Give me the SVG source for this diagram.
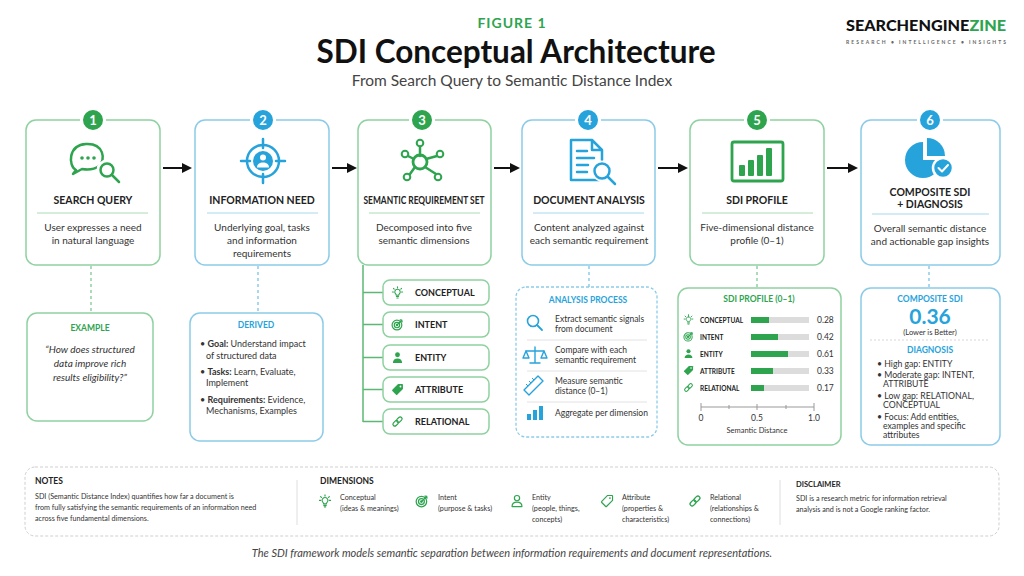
<svg xmlns="http://www.w3.org/2000/svg" width="1024" height="576" viewBox="0 0 1024 576">
<style>
  text { font-family: Lato, "Open Sans", "Liberation Sans", sans-serif; }
  .bg { fill: #ffffff; }
  .boxG { fill: #ffffff; stroke: #8fd1a0; stroke-width: 1.5; }
  .boxB { fill: #ffffff; stroke: #8ccbe8; stroke-width: 1.5; }
  .boxBd { fill: #ffffff; stroke: #8ccbe8; stroke-width: 1.3; stroke-dasharray: 3 2; }
  .divG { stroke: #a8dcb5; stroke-width: 1; }
  .divB { stroke: #a6d8ee; stroke-width: 1; }
  .ttl { font-size: 10.5px; font-weight: 700; fill: #222; text-anchor: middle; }
  .desc { font-size: 10px; fill: #333; text-anchor: middle; }
  .badge { font-size: 13px; font-weight: 700; fill: #fff; text-anchor: middle; }
  .hG { font-size: 8.5px; font-weight: 700; fill: #2ea44f; text-anchor: middle; }
  .hB { font-size: 8.5px; font-weight: 700; fill: #27a3dc; text-anchor: middle; }
  .small { font-size: 9px; fill: #333; }
  .tiny { font-size: 8.5px; fill: #333; }
  .diag { font-size: 8.7px; fill: #333; }
  .dim { font-size: 9px; font-weight: 700; fill: #222; }
  .plab { font-size: 6.5px; font-weight: 700; fill: #222; }
  .pval { font-size: 8.5px; fill: #333; }
  .note { font-size: 7.2px; fill: #333; }
  .nh { font-size: 8.5px; font-weight: 700; fill: #222; }
  .arrow { stroke: #111; stroke-width: 2; fill: none; marker-end: url(#ah); }
  .dashG { stroke: #7fc894; stroke-width: 1.3; stroke-dasharray: 3 3; fill: none; }
  .dashB { stroke: #7cc3e6; stroke-width: 1.3; stroke-dasharray: 3 3; fill: none; }
  .tree { stroke: #5cb874; stroke-width: 1.5; fill: none; }
  .sepL { stroke: #e2e2e2; stroke-width: 1; }
  .icoG { stroke: #2ea44f; fill: none; stroke-width: 2.5; stroke-linecap: round; stroke-linejoin: round; }
  .icoB { stroke: #27a3dc; fill: none; stroke-width: 2.5; stroke-linecap: round; stroke-linejoin: round; }
</style>
<defs>
  <marker id="ah" viewBox="0 0 10 10" refX="8" refY="5" markerWidth="5" markerHeight="5" orient="auto" markerUnits="strokeWidth">
    <path d="M0 0 L10 5 L0 10 z" fill="#111"/>
  </marker>
  <symbol id="bulb" viewBox="0 0 24 24">
    <g fill="none" stroke="currentColor" stroke-width="2" stroke-linecap="round" stroke-linejoin="round">
      <path d="M12 6a5 5 0 0 0-3.3 8.8c.7.6 1 1.3 1 2.2h4.6c0-.9.3-1.6 1-2.2A5 5 0 0 0 12 6z"/>
      <path d="M10 19.5h4M10.8 22h2.4"/>
      <path d="M12 1.5v2M4.5 4.5l1.4 1.4M19.5 4.5l-1.4 1.4M2.5 11h2M19.5 11h2"/>
    </g>
  </symbol>
  <symbol id="target" viewBox="0 0 24 24">
    <g fill="none" stroke="currentColor" stroke-width="2.2" stroke-linecap="round">
      <circle cx="11" cy="13" r="9"/>
      <circle cx="11" cy="13" r="5"/>
      <circle cx="11" cy="13" r="1.3" fill="currentColor"/>
      <path d="M11 13 L20 4 M17 3.5 L20 4 L20.5 7"/>
    </g>
  </symbol>
  <symbol id="personF" viewBox="0 0 24 24">
    <g fill="currentColor">
      <circle cx="12" cy="7" r="4.5"/>
      <path d="M3.5 22c0-5.5 3.8-8 8.5-8s8.5 2.5 8.5 8z"/>
    </g>
  </symbol>
  <symbol id="personO" viewBox="0 0 24 24">
    <g fill="none" stroke="currentColor" stroke-width="2" stroke-linejoin="round">
      <circle cx="12" cy="7" r="4.5"/>
      <path d="M3.5 21.5c0-5 3.8-7.5 8.5-7.5s8.5 2.5 8.5 7.5z"/>
    </g>
  </symbol>
  <symbol id="tagF" viewBox="0 0 24 24">
    <path d="M13 2h8a1 1 0 0 1 1 1v8L11.5 21.5a1.5 1.5 0 0 1-2.1 0L2.5 14.6a1.5 1.5 0 0 1 0-2.1z" fill="currentColor"/>
    <circle cx="17.5" cy="6.5" r="1.7" fill="#fff"/>
  </symbol>
  <symbol id="tagO" viewBox="0 0 24 24">
    <path d="M13 2.5h7.5a1 1 0 0 1 1 1V11L11.5 21a1.5 1.5 0 0 1-2.1 0L3 14.6a1.5 1.5 0 0 1 0-2.1z" fill="none" stroke="currentColor" stroke-width="2" stroke-linejoin="round"/>
    <circle cx="17" cy="7" r="1.5" fill="currentColor"/>
  </symbol>
  <symbol id="link" viewBox="0 0 24 24">
    <g fill="none" stroke="currentColor" stroke-width="2.2" transform="rotate(-45 12 12)">
      <rect x="1.5" y="8.5" width="11.5" height="7" rx="3.5"/>
      <rect x="11" y="8.5" width="11.5" height="7" rx="3.5"/>
    </g>
  </symbol>
</defs>

<rect class="bg" x="0" y="0" width="1024" height="576"/>

<!-- Header -->
<g id="header">
  <text x="512" y="28" font-size="14" font-weight="700" fill="#2ea44f" text-anchor="middle" letter-spacing="1">FIGURE 1</text>
  <text x="516" y="63" font-size="31.5" font-weight="700" fill="#111" text-anchor="middle">SDI Conceptual Architecture</text>
  <text x="512" y="86" font-size="15.5" fill="#444" text-anchor="middle">From Search Query to Semantic Distance Index</text>
</g>
<g id="logo">
  <text x="846" y="31" font-size="15.5" font-weight="900" fill="#111" textLength="160" lengthAdjust="spacingAndGlyphs">SEARCHENGINE<tspan fill="#2ea44f">ZINE</tspan></text>
  <text x="846" y="44" font-size="5" font-weight="700" fill="#666" textLength="160" lengthAdjust="spacing">RESEARCH  •  INTELLIGENCE  •  INSIGHTS</text>
</g>

<!-- Connectors -->
<g id="connectors">
  <line class="arrow" x1="163" y1="168" x2="190" y2="168"/>
  <line class="arrow" x1="332" y1="168" x2="355" y2="168"/>
  <line class="arrow" x1="494" y1="168" x2="518" y2="168"/>
  <line class="arrow" x1="658" y1="168" x2="686" y2="168"/>
  <line class="arrow" x1="827" y1="168" x2="856" y2="168"/>
  <line class="dashG" x1="91" y1="266" x2="91" y2="313"/>
  <line class="dashB" x1="258" y1="266" x2="258" y2="313"/>
  <line class="dashB" x1="589" y1="266" x2="589" y2="287"/>
  <line class="dashG" x1="757" y1="266" x2="757" y2="288"/>
  <line class="dashB" x1="929" y1="266" x2="929" y2="288"/>
  <path class="tree" d="M363 265 V422 M363 292.5 H383 M363 324.5 H383 M363 357.5 H383 M363 389.5 H383 M363 421.5 H383"/>
</g>

<!-- Step 1 -->
<g id="step1">
  <rect class="boxG" x="26" y="120" width="134" height="145" rx="10"/>
  <circle cx="93" cy="120" r="11.5" fill="#2ea44f" stroke="#fff" stroke-width="3"/>
  <text class="badge" x="93" y="124.5">1</text>
  <path class="icoG" d="M76 170 C68 166 68 145 86 144 C104 143 106 160 99 166 C95 169 88 170 82 169 L73 174 Z"/>
  <circle cx="82" cy="158" r="1.8" fill="#2ea44f"/>
  <circle cx="88" cy="158" r="1.8" fill="#2ea44f"/>
  <circle cx="94" cy="158" r="1.8" fill="#2ea44f"/>
  <circle cx="107" cy="170" r="8.5" fill="#fff" stroke="#fff" stroke-width="4"/>
  <circle class="icoG" cx="107" cy="170" r="6.5"/>
  <line class="icoG" x1="112" y1="175" x2="119" y2="182"/>
  <text class="ttl" x="93" y="204">SEARCH QUERY</text>
  <line class="divG" x1="37" y1="213" x2="148" y2="213"/>
  <text class="desc" x="93" y="231">User expresses a need</text>
  <text class="desc" x="93" y="244">in natural language</text>
</g>

<!-- Step 2 -->
<g id="step2">
  <rect class="boxB" x="195" y="120" width="134" height="145" rx="10"/>
  <circle cx="263" cy="120" r="11.5" fill="#27a3dc" stroke="#fff" stroke-width="3"/>
  <text class="badge" x="263" y="124.5">2</text>
  <circle class="icoB" cx="263" cy="161" r="16"/>
  <path class="icoB" d="M263 139 V148 M263 174 V183 M241 161 H250 M276 161 H285"/>
  <circle cx="263" cy="161" r="10" fill="#27a3dc"/>
  <circle cx="263" cy="157.5" r="3" fill="#fff"/>
  <path d="M257 167.5 c0-3.5 2.7-5 6-5 s6 1.5 6 5z" fill="#fff"/>
  <text class="ttl" x="262" y="204">INFORMATION NEED</text>
  <line class="divB" x1="207" y1="213" x2="318" y2="213"/>
  <text class="desc" x="262" y="231">Underlying goal, tasks</text>
  <text class="desc" x="262" y="244">and information</text>
  <text class="desc" x="262" y="257">requirements</text>
</g>

<!-- Step 3 -->
<g id="step3">
  <rect class="boxG" x="358" y="120" width="133" height="145" rx="10"/>
  <circle cx="422" cy="120" r="11.5" fill="#2ea44f" stroke="#fff" stroke-width="3"/>
  <text class="badge" x="422" y="124.5">3</text>
  <g class="icoG">
    <path d="M420 156 V147 M414 159 L408 156 M426 159 L437 156 M415 167 L410 174 M425 167 L436 174"/>
    <circle cx="420" cy="162" r="7" stroke-width="2.8"/>
    <circle cx="420" cy="143" r="3.3" stroke-width="2"/>
    <circle cx="405" cy="154" r="3.3" stroke-width="2"/>
    <circle cx="440" cy="154" r="3.3" stroke-width="2"/>
    <circle cx="407" cy="177" r="3.3" stroke-width="2"/>
    <circle cx="438" cy="177" r="3.3" stroke-width="2"/>
  </g>
  <text class="ttl" x="424" y="204" font-size="9.5" textLength="121" lengthAdjust="spacingAndGlyphs">SEMANTIC REQUIREMENT SET</text>
  <line class="divG" x1="369" y1="213" x2="480" y2="213"/>
  <text class="desc" x="424" y="231">Decomposed into five</text>
  <text class="desc" x="424" y="244">semantic dimensions</text>
</g>

<!-- Dimensions of step 3 -->
<g id="dim-conceptual">
  <rect class="boxG" x="383" y="280" width="106" height="25" rx="7"/>
  <use href="#bulb" x="391" y="286" width="13" height="13" style="color:#2ea44f"/>
  <text class="dim" x="415" y="296">CONCEPTUAL</text>
</g>
<g id="dim-intent">
  <rect class="boxG" x="383" y="312" width="106" height="25" rx="7"/>
  <use href="#target" x="391" y="318" width="13" height="13" style="color:#2ea44f"/>
  <text class="dim" x="415" y="328">INTENT</text>
</g>
<g id="dim-entity">
  <rect class="boxG" x="383" y="345" width="106" height="25" rx="7"/>
  <use href="#personF" x="391" y="351" width="13" height="13" style="color:#2ea44f"/>
  <text class="dim" x="415" y="361">ENTITY</text>
</g>
<g id="dim-attribute">
  <rect class="boxG" x="383" y="377" width="106" height="25" rx="7"/>
  <use href="#tagF" x="391" y="383" width="13" height="13" style="color:#2ea44f"/>
  <text class="dim" x="415" y="393">ATTRIBUTE</text>
</g>
<g id="dim-relational">
  <rect class="boxG" x="383" y="409" width="106" height="25" rx="7"/>
  <use href="#link" x="391" y="415" width="13" height="13" style="color:#2ea44f"/>
  <text class="dim" x="415" y="425">RELATIONAL</text>
</g>

<!-- Step 4 -->
<g id="step4">
  <rect class="boxB" x="522" y="120" width="133" height="145" rx="10"/>
  <circle cx="588" cy="120" r="11.5" fill="#27a3dc" stroke="#fff" stroke-width="3"/>
  <text class="badge" x="588" y="124.5">4</text>
  <path class="icoB" d="M599 180 H571 V140 H592 L602 150 V160 M592 140 V150 H602"/>
  <path class="icoB" d="M577 151 H587 M577 158 H594 M577 165 H588 M577 172 H587"/>
  <circle cx="602" cy="171" r="9" fill="#fff" stroke="#fff" stroke-width="3"/>
  <circle class="icoB" cx="602" cy="171" r="7.5"/>
  <line class="icoB" x1="608" y1="177" x2="615" y2="184"/>
  <text class="ttl" x="589" y="204">DOCUMENT ANALYSIS</text>
  <line class="divB" x1="533" y1="213" x2="644" y2="213"/>
  <text class="desc" x="589" y="231">Content analyzed against</text>
  <text class="desc" x="589" y="244">each semantic requirement</text>
</g>

<!-- Analysis process -->
<g id="analysis-process">
  <rect class="boxBd" x="516" y="287" width="141" height="150" rx="10"/>
  <text class="hB" x="588" y="303">ANALYSIS PROCESS</text>
  <circle cx="533" cy="321" r="5.5" fill="none" stroke="#27a3dc" stroke-width="1.6"/>
  <line x1="537" y1="325" x2="542" y2="330" stroke="#27a3dc" stroke-width="1.8" stroke-linecap="round"/>
  <text class="tiny" x="555" y="322">Extract semantic signals</text>
  <text class="tiny" x="555" y="332">from document</text>
  <line class="sepL" x1="527" y1="340" x2="647" y2="340"/>
  <g fill="none" stroke="#27a3dc" stroke-width="1.4" stroke-linejoin="round" stroke-linecap="round">
    <path d="M535 347 V363 M530 363 H540 M526 351 H544"/>
    <path d="M526 351 L523 358 H529 Z M544 351 L541 358 H547 Z"/>
  </g>
  <text class="tiny" x="555" y="353">Compare with each</text>
  <text class="tiny" x="555" y="363">semantic requirement</text>
  <line class="sepL" x1="527" y1="371" x2="647" y2="371"/>
  <g fill="none" stroke="#27a3dc" stroke-width="1.4" stroke-linejoin="round">
    <path d="M524 390 L538 376 L543 381 L529 395 Z"/>
    <path d="M529 381 l2 2 M532 378 l2 2 M526 384 l2 2" stroke-width="1"/>
  </g>
  <text class="tiny" x="555" y="384">Measure semantic</text>
  <text class="tiny" x="555" y="394">distance (0–1)</text>
  <line class="sepL" x1="527" y1="402" x2="647" y2="402"/>
  <rect x="527" y="414" width="4" height="6" fill="#27a3dc"/>
  <rect x="533" y="410" width="4" height="10" fill="#27a3dc"/>
  <rect x="539" y="406" width="4" height="14" fill="#27a3dc"/>
  <text class="tiny" x="555" y="416">Aggregate per dimension</text>
</g>

<!-- Step 5 -->
<g id="step5">
  <rect class="boxG" x="690" y="120" width="134" height="145" rx="10"/>
  <circle cx="757" cy="120" r="11.5" fill="#2ea44f" stroke="#fff" stroke-width="3"/>
  <text class="badge" x="757" y="124.5">5</text>
  <rect x="732" y="142" width="51" height="39" rx="2" fill="none" stroke="#2ea44f" stroke-width="2.8"/>
  <rect x="739" y="165" width="6" height="11" rx="1" fill="#2ea44f"/>
  <rect x="748" y="160" width="6" height="16" rx="1" fill="#2ea44f"/>
  <rect x="757" y="155" width="6" height="21" rx="1" fill="#2ea44f"/>
  <rect x="766" y="148" width="6" height="28" rx="1" fill="#2ea44f"/>
  <text class="ttl" x="757" y="204">SDI PROFILE</text>
  <line class="divG" x1="702" y1="213" x2="813" y2="213"/>
  <text class="desc" x="757" y="231">Five-dimensional distance</text>
  <text class="desc" x="757" y="244">profile (0–1)</text>
</g>

<!-- SDI profile chart -->
<g id="sdi-profile">
  <rect class="boxG" x="678" y="288" width="163" height="157" rx="10"/>
  <text class="hG" x="759" y="302">SDI PROFILE (0–1)</text>
  <use href="#bulb" x="683" y="314" width="11" height="11" style="color:#2ea44f"/>
  <text class="plab" x="700" y="322.5">CONCEPTUAL</text>
  <rect x="751" y="317" width="58" height="6" fill="#dcdcdc"/>
  <rect x="751" y="317" width="18" height="6" fill="#2ea44f"/>
  <text class="pval" x="817" y="323">0.28</text>
  <use href="#target" x="683" y="331" width="11" height="11" style="color:#2ea44f"/>
  <text class="plab" x="700" y="339.5">INTENT</text>
  <rect x="751" y="334" width="58" height="6" fill="#dcdcdc"/>
  <rect x="751" y="334" width="27" height="6" fill="#2ea44f"/>
  <text class="pval" x="817" y="340">0.42</text>
  <use href="#personF" x="683" y="348" width="11" height="11" style="color:#2ea44f"/>
  <text class="plab" x="700" y="356.5">ENTITY</text>
  <rect x="751" y="351" width="58" height="6" fill="#dcdcdc"/>
  <rect x="751" y="351" width="37" height="6" fill="#2ea44f"/>
  <text class="pval" x="817" y="357">0.61</text>
  <use href="#tagF" x="683" y="365" width="11" height="11" style="color:#2ea44f"/>
  <text class="plab" x="700" y="373.5">ATTRIBUTE</text>
  <rect x="751" y="368" width="58" height="6" fill="#dcdcdc"/>
  <rect x="751" y="368" width="22" height="6" fill="#2ea44f"/>
  <text class="pval" x="817" y="374">0.33</text>
  <use href="#link" x="683" y="382" width="11" height="11" style="color:#2ea44f"/>
  <text class="plab" x="700" y="390.5">RELATIONAL</text>
  <rect x="751" y="385" width="58" height="6" fill="#dcdcdc"/>
  <rect x="751" y="385" width="13" height="6" fill="#2ea44f"/>
  <text class="pval" x="817" y="391">0.17</text>
  <path d="M701 407 H814 M701 403 V411 M814 403 V411 M757 404 V410 M729 405 V409 M786 405 V409" stroke="#999" stroke-width="1" fill="none"/>
  <text class="tiny" x="701" y="421" text-anchor="middle">0</text>
  <text class="tiny" x="757" y="421" text-anchor="middle">0.5</text>
  <text class="tiny" x="814" y="421" text-anchor="middle">1.0</text>
  <text x="757" y="433" font-size="7.5" fill="#333" text-anchor="middle">Semantic Distance</text>
</g>

<!-- Step 6 -->
<g id="step6">
  <rect class="boxB" x="861" y="120" width="139" height="145" rx="10"/>
  <circle cx="930" cy="120" r="11.5" fill="#27a3dc" stroke="#fff" stroke-width="3"/>
  <text class="badge" x="930" y="124.5">6</text>
  <path d="M923 142 V160 H941 A18 18 0 1 1 923 142 Z" fill="#27a3dc"/>
  <path d="M927 138 A18 18 0 0 1 945 156 H927 Z" fill="#27a3dc"/>
  <circle cx="943" cy="168" r="10" fill="#27a3dc" stroke="#fff" stroke-width="2.5"/>
  <path d="M938.5 168 L942 171.5 L948 165" fill="none" stroke="#fff" stroke-width="2" stroke-linecap="round" stroke-linejoin="round"/>
  <text class="ttl" x="930" y="196">COMPOSITE SDI</text>
  <text class="ttl" x="930" y="208">+ DIAGNOSIS</text>
  <line class="divB" x1="872" y1="214" x2="989" y2="214"/>
  <text class="desc" x="930" y="232">Overall semantic distance</text>
  <text class="desc" x="930" y="245">and actionable gap insights</text>
</g>

<!-- Composite SDI + diagnosis -->
<g id="composite">
  <rect class="boxB" x="861" y="288" width="139" height="157" rx="10"/>
  <text class="hB" x="930" y="302">COMPOSITE SDI</text>
  <text x="930" y="324" font-size="21" font-weight="700" fill="#27a3dc" text-anchor="middle">0.36</text>
  <text x="930" y="334.5" font-size="7.5" fill="#333" text-anchor="middle">(Lower is Better)</text>
  <line x1="870" y1="340" x2="990" y2="340" stroke="#d6d6d6" stroke-width="1" stroke-dasharray="2 2"/>
  <text class="hB" x="930" y="353">DIAGNOSIS</text>
  <text class="diag" x="877" y="367">• High gap: ENTITY</text>
  <text class="diag" x="877" y="378">• Moderate gap: INTENT,</text>
  <text class="diag" x="883" y="387">ATTRIBUTE</text>
  <text class="diag" x="877" y="399">• Low gap: RELATIONAL,</text>
  <text class="diag" x="883" y="408">CONCEPTUAL</text>
  <text class="diag" x="877" y="420">• Focus: Add entities,</text>
  <text class="diag" x="883" y="429">examples and specific</text>
  <text class="diag" x="883" y="438">attributes</text>
</g>

<!-- Example -->
<g id="example">
  <rect class="boxG" x="27" y="313" width="126" height="108" rx="10"/>
  <text class="hG" x="90" y="331">EXAMPLE</text>
  <text class="desc" x="90" y="353" font-size="10.5" font-style="italic">“How does structured</text>
  <text class="desc" x="90" y="367" font-size="10.5" font-style="italic">data improve rich</text>
  <text class="desc" x="90" y="381" font-size="10.5" font-style="italic">results eligibility?”</text>
</g>

<!-- Derived -->
<g id="derived">
  <rect class="boxB" x="190" y="313" width="133" height="128" rx="10"/>
  <text class="hB" x="256" y="328">DERIVED</text>
  <text class="small" x="200" y="347">• <tspan font-weight="700">Goal:</tspan> Understand impact</text>
  <text class="small" x="206" y="359">of structured data</text>
  <text class="small" x="200" y="375">• <tspan font-weight="700">Tasks:</tspan> Learn, Evaluate,</text>
  <text class="small" x="206" y="386">Implement</text>
  <text class="small" x="200" y="403">• <tspan font-weight="700">Requirements:</tspan> Evidence,</text>
  <text class="small" x="206" y="414">Mechanisms, Examples</text>
</g>

<!-- Notes panel -->
<g id="notes">
  <rect x="25" y="467" width="974" height="69" rx="10" fill="#fff" stroke="#cfcfcf" stroke-width="1" stroke-dasharray="3 2"/>
  <text class="nh" x="35" y="484">NOTES</text>
  <text class="note" x="35" y="499">SDI (Semantic Distance Index) quantifies how far a document is</text>
  <text class="note" x="35" y="510">from fully satisfying the semantic requirements of an information need</text>
  <text class="note" x="35" y="521">across five fundamental dimensions.</text>
  <line x1="297" y1="480" x2="297" y2="525" stroke="#dedede" stroke-width="1"/>
  <text class="nh" x="320" y="484">DIMENSIONS</text>
  <use href="#bulb" x="318" y="494" width="14" height="14" style="color:#2ea44f"/>
  <text class="note" x="340" y="500">Conceptual</text>
  <text class="note" x="340" y="511">(ideas &amp; meanings)</text>
  <use href="#target" x="415" y="494" width="14" height="14" style="color:#2ea44f"/>
  <text class="note" x="438" y="500">Intent</text>
  <text class="note" x="438" y="511">(purpose &amp; tasks)</text>
  <use href="#personO" x="510" y="494" width="14" height="14" style="color:#2ea44f"/>
  <text class="note" x="532" y="500">Entity</text>
  <text class="note" x="532" y="511">(people, things,</text>
  <text class="note" x="532" y="522">concepts)</text>
  <use href="#tagO" x="600" y="494" width="14" height="14" style="color:#2ea44f"/>
  <text class="note" x="622" y="500">Attribute</text>
  <text class="note" x="622" y="511">(properties &amp;</text>
  <text class="note" x="622" y="522">characteristics)</text>
  <use href="#link" x="688" y="494" width="14" height="14" style="color:#2ea44f"/>
  <text class="note" x="710" y="500">Relational</text>
  <text class="note" x="710" y="511">(relationships &amp;</text>
  <text class="note" x="710" y="522">connections)</text>
  <line x1="780" y1="480" x2="780" y2="525" stroke="#dedede" stroke-width="1"/>
  <text x="796" y="487" font-size="7.5" font-weight="700" fill="#222">DISCLAIMER</text>
  <text class="note" x="796" y="501" font-size="7.5">SDI is a research metric for information retrieval</text>
  <text class="note" x="796" y="512" font-size="7.5">analysis and is not a Google ranking factor.</text>
</g>

<g id="footer">
  <text x="512" y="557" font-size="11" font-style="italic" fill="#444" text-anchor="middle">The SDI framework models semantic separation between information requirements and document representations.</text>
</g>
</svg>
